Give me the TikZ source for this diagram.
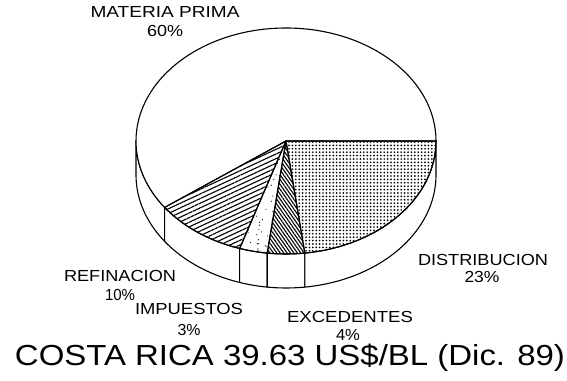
\documentclass[tikz,border=0pt]{standalone}
\usepackage{fontspec}
\setmainfont{Liberation Sans}
\usepackage{graphicx}
\usetikzlibrary{patterns.meta}
\newcommand{\wlbl}[2]{\resizebox{#1}{\height}{#2}}
\begin{document}
\begin{tikzpicture}[x=1pt,y=1pt,
  outline/.style={line width=1.1pt, line join=round},
  lbl/.style={inner sep=0pt, anchor=base, font=\fontsize{16}{16}\selectfont},
  ttl/.style={inner sep=0pt, anchor=base, font=\fontsize{29}{29}\selectfont}]
\useasboundingbox (0,0) rectangle (567,380);
\def\RX{150}\def\RY{113}\def\T{34}
\coordinate (c) at (286,239);
% side walls
\foreach \a/\b in {-180/-144,-144/-108,-108/-97.2,-97.2/-82.8,-82.8/0}{
  \draw[outline, fill=white] (c) ++(\a:\RX pt and \RY pt) -- ++(0,-\T)
    arc[start angle=\a, end angle=\b, x radius=\RX, y radius=\RY] -- ++(0,\T)
    arc[start angle=\b, end angle=\a, x radius=\RX, y radius=\RY] -- cycle;
}
% MATERIA PRIMA
\draw[outline, fill=white] (c) -- ++(0:\RX pt and \RY pt)
  arc[start angle=0, end angle=216, x radius=\RX, y radius=\RY] -- cycle;
% DISTRIBUCION
\draw[outline, pattern={Dots[distance=3.4pt, radius=0.95pt]}] (c) -- ++(0:\RX pt and \RY pt)
  arc[start angle=0, end angle=-82.8, x radius=\RX, y radius=\RY] -- cycle;
% EXCEDENTES
\draw[outline, pattern={Lines[angle=-55, distance=2.8pt, line width=1.1pt]}] (c) -- ++(-82.8:\RX pt and \RY pt)
  arc[start angle=-82.8, end angle=-97.2, x radius=\RX, y radius=\RY] -- cycle;
% IMPUESTOS stipple
\begin{scope}
  \clip (c) -- ++(-97.2:\RX pt and \RY pt)
    arc[start angle=-97.2, end angle=-108, x radius=\RX, y radius=\RY] -- cycle;
  \pgfmathsetseed{7}
  \foreach \i in {1,...,130}{
    \pgfmathsetmacro\px{236+52*rnd}
    \pgfmathsetmacro\py{124+116*(rnd)^1.6}
    \fill (\px,\py) circle (0.6pt);
  }
\end{scope}
\draw[outline] (c) -- ++(-97.2:\RX pt and \RY pt)
  arc[start angle=-97.2, end angle=-108, x radius=\RX, y radius=\RY] -- cycle;
% REFINACION
\draw[outline, pattern={Lines[angle=25, distance=4.2pt, line width=1.1pt]}] (c) -- ++(-108:\RX pt and \RY pt)
  arc[start angle=-108, end angle=-144, x radius=\RX, y radius=\RY] -- cycle;
% labels
\node[lbl] (mp) at (165,362) {\wlbl{149pt}{MATERIA PRIMA}};
\node[lbl] (mpv) at (165,343) {\wlbl{36pt}{60\%}};
\node[lbl] (ref) at (120,98) {\wlbl{112pt}{REFINACION}};
\node[lbl] (refv) at (120,79) {\wlbl{30pt}{10\%}};
\node[lbl] (imp) at (189,65) {\wlbl{108pt}{IMPUESTOS}};
\node[lbl] (impv) at (189,45) {\wlbl{23pt}{3\%}};
\node[lbl] (exc) at (350,57) {\wlbl{126pt}{EXCEDENTES}};
\node[lbl] (excv) at (348,40) {\wlbl{24pt}{4\%}};
\node[lbl] (dis) at (483,114) {\wlbl{130pt}{DISTRIBUCION}};
\node[lbl] (disv) at (482,97) {\wlbl{35pt}{23\%}};
\node[ttl] (title) at (290,15) {\wlbl{550pt}{COSTA RICA 39.63 US\$/BL (Dic. 89)}};
\end{tikzpicture}
\end{document}
